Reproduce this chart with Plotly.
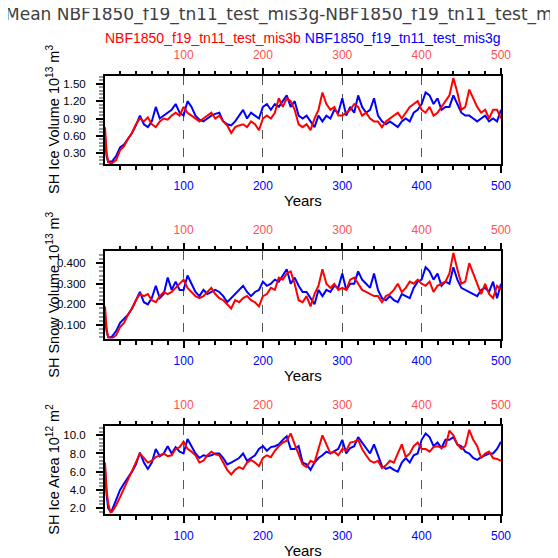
import plotly.graph_objects as go

years = [1, 3, 5, 8] + list(range(10, 505, 5))

ice_vol_mis3b = [0.75, 0.30, 0.15, 0.12, 0.13, 0.18, 0.35, 0.42, 0.55, 0.65,
                 0.80, 0.90, 0.85, 0.92, 0.80, 0.75, 0.85, 0.90, 0.88, 0.95,
                 1.00, 0.95, 1.10, 1.00, 0.95, 0.90, 0.85, 0.90, 0.95, 1.00,
                 0.90, 0.95, 0.85, 0.78, 0.65, 0.75, 0.78, 0.80, 0.75, 0.85,
                 0.80, 0.70, 0.90, 0.95, 0.90, 1.00, 1.25, 1.10, 1.25, 1.20,
                 1.05, 0.80, 0.75, 0.80, 0.70, 0.90, 1.05, 1.35, 1.15, 1.05,
                 1.10, 0.95, 0.95, 1.00, 1.05, 1.15, 1.10, 0.95, 1.00, 0.90,
                 0.85, 0.85, 0.75, 0.85, 0.90, 0.95, 1.00, 0.90, 1.00, 1.10,
                 1.15, 1.20, 1.05, 1.00, 1.10, 0.95, 1.00, 1.10, 1.20, 1.30,
                 1.60, 1.35, 1.05, 1.10, 1.40, 1.25, 1.10, 1.00, 1.05, 0.90,
                 1.05, 1.05, 0.90]
ice_vol_mis3g = [0.60, 0.25, 0.15, 0.15, 0.16, 0.25, 0.40, 0.45, 0.55, 0.65,
                 0.78, 0.95, 0.80, 0.75, 0.85, 1.10, 0.90, 0.95, 1.00, 1.05,
                 1.15, 1.00, 0.95, 1.20, 1.10, 0.95, 0.88, 0.85, 0.90, 0.95,
                 0.98, 1.00, 0.85, 0.80, 0.78, 0.85, 0.95, 1.05, 0.90, 1.00,
                 0.95, 0.90, 1.10, 1.15, 1.05, 1.15, 1.10, 1.20, 1.30, 1.10,
                 1.20, 0.95, 0.90, 0.95, 0.85, 0.75, 0.95, 0.85, 0.95, 0.90,
                 1.05, 1.00, 1.25, 0.95, 1.10, 1.00, 1.30, 1.10, 1.00, 1.05,
                 1.25, 0.95, 0.85, 0.80, 0.85, 0.80, 0.75, 0.85, 0.90, 0.85,
                 1.00, 1.05, 1.15, 1.35, 1.30, 1.15, 1.25, 1.05, 1.10, 1.10,
                 1.30, 1.15, 1.00, 0.95, 0.95, 0.90, 0.85, 0.90, 0.95, 0.85,
                 0.90, 0.85, 1.05]

snow_vol_mis3b = [0.19, 0.08, 0.04, 0.032, 0.035, 0.05, 0.09, 0.11, 0.15, 0.18,
                  0.22, 0.25, 0.24, 0.25, 0.22, 0.21, 0.24, 0.26, 0.25, 0.26,
                  0.28, 0.30, 0.32, 0.28, 0.26, 0.24, 0.23, 0.24, 0.26, 0.28,
                  0.25, 0.23, 0.22, 0.20, 0.18, 0.22, 0.21, 0.23, 0.24, 0.22,
                  0.21, 0.19, 0.24, 0.25, 0.28, 0.27, 0.33, 0.32, 0.35, 0.36,
                  0.30, 0.22, 0.21, 0.24, 0.19, 0.25, 0.29, 0.37, 0.30, 0.28,
                  0.30, 0.27, 0.28, 0.27, 0.32, 0.33, 0.30, 0.27, 0.26, 0.25,
                  0.24, 0.24, 0.21, 0.24, 0.25, 0.27, 0.30, 0.26, 0.28, 0.31,
                  0.30, 0.32, 0.30, 0.29, 0.31, 0.26, 0.29, 0.30, 0.31, 0.35,
                  0.45, 0.37, 0.30, 0.31, 0.40, 0.35, 0.30, 0.25, 0.30, 0.25,
                  0.23, 0.29, 0.27]
snow_vol_mis3g = [0.15, 0.07, 0.04, 0.04, 0.045, 0.07, 0.11, 0.13, 0.15, 0.18,
                  0.22, 0.26, 0.21, 0.20, 0.23, 0.29, 0.23, 0.25, 0.33, 0.27,
                  0.31, 0.27, 0.27, 0.34, 0.30, 0.26, 0.24, 0.27, 0.25, 0.26,
                  0.27, 0.26, 0.24, 0.21, 0.23, 0.25, 0.27, 0.29, 0.26, 0.24,
                  0.26, 0.27, 0.31, 0.29, 0.30, 0.32, 0.31, 0.34, 0.37, 0.30,
                  0.33, 0.29, 0.26, 0.26, 0.23, 0.20, 0.27, 0.24, 0.27, 0.26,
                  0.29, 0.28, 0.35, 0.27, 0.30, 0.30, 0.36, 0.32, 0.30, 0.28,
                  0.35, 0.27, 0.23, 0.22, 0.24, 0.22, 0.21, 0.25, 0.24, 0.23,
                  0.28, 0.31, 0.32, 0.38, 0.36, 0.32, 0.35, 0.29, 0.31, 0.30,
                  0.38, 0.32, 0.28, 0.27, 0.26, 0.25, 0.24, 0.27, 0.28, 0.26,
                  0.31, 0.23, 0.30]

ice_area_mis3b = [7.0, 4.0, 2.5, 1.5, 1.6, 2.3, 3.2, 4.2, 5.2, 6.2,
                  7.0, 8.0, 7.5, 7.0, 7.2, 7.6, 7.8, 8.0, 7.7, 7.8,
                  8.5, 8.7, 9.3, 8.5, 8.2, 7.8, 7.0, 7.2, 7.8, 8.2,
                  7.9, 7.8, 7.0, 6.2, 5.7, 6.2, 6.5, 6.3, 7.0, 7.3,
                  7.0, 6.6, 7.5, 7.8, 7.6, 8.3, 8.8, 9.2, 9.4, 10.2,
                  9.0, 8.0, 6.8, 6.5, 7.2, 7.0, 8.5, 10.0, 9.0, 8.0,
                  8.2, 7.8, 8.5, 8.3, 9.2, 9.3, 9.5, 8.5, 7.8, 7.2,
                  7.0, 7.2, 6.4, 6.7, 7.2, 7.0, 8.0, 9.0, 7.6, 8.0,
                  8.8, 9.2, 8.5, 8.5, 8.2, 8.7, 8.8, 8.6, 8.8, 10.5,
                  10.0, 9.0, 8.5, 8.8, 10.6, 9.5, 8.8, 7.5, 8.0, 8.2,
                  7.5, 7.4, 7.2]
ice_area_mis3g = [6.5, 3.5, 2.0, 1.6, 1.8, 2.8, 4.0, 4.7, 5.3, 6.0,
                  6.8, 8.1, 7.0, 6.3, 7.0, 8.5, 7.7, 8.0, 8.8, 8.0,
                  8.7, 8.2, 8.0, 9.6, 8.8, 8.0, 7.5, 7.8, 7.7, 7.8,
                  8.0, 8.0, 7.5, 6.8, 7.0, 7.3, 7.5, 8.0, 7.2, 7.5,
                  7.8, 8.5, 8.8, 8.3, 8.7, 8.8, 9.0, 9.5, 9.9, 8.5,
                  8.5, 8.8, 7.0, 6.8, 6.2, 7.0, 7.5, 7.8, 8.2, 8.0,
                  8.3, 8.5, 9.5, 8.0, 8.6, 8.8, 9.8, 9.2, 8.7, 8.0,
                  9.0, 7.8, 6.6, 6.3, 6.5, 6.2, 6.0, 7.0, 7.5, 7.0,
                  7.8, 8.0, 9.5, 10.2, 9.8, 8.8, 9.2, 8.6, 9.5, 9.5,
                  9.8, 9.0, 8.8, 8.2, 8.0, 7.5, 7.3, 7.6, 7.8, 8.0,
                  8.0, 8.5, 9.3]

x_tick_vals = [100, 200, 300, 400, 500]
title_text = "Mean NBF1850_f19_tn11_test_mis3g-NBF1850_f19_tn11_test_mis3b"
name_b = "NBF1850_f19_tn11_test_mis3b"
name_g = "NBF1850_f19_tn11_test_mis3g"
x_title = "Years"

panels = [
    dict(red=ice_vol_mis3b, blue=ice_vol_mis3g,
         ytitle="SH Ice Volume 10<sup>13</sup> m<sup>3</sup>",
         yrange=[0.113, 1.635], dtick=0.3, minor=0.06, fmt=".2f",
         top=76, bot=164),
    dict(red=snow_vol_mis3b, blue=snow_vol_mis3g,
         ytitle="SH Snow Volume 10<sup>13</sup> m<sup>3</sup>",
         yrange=[0.034, 0.459], dtick=0.1, minor=0.02, fmt=".3f",
         top=251, bot=338.5),
    dict(red=ice_area_mis3b, blue=ice_area_mis3g,
         ytitle="SH Ice Area 10<sup>12</sup> m<sup>2</sup>",
         yrange=[1.40, 11.02], dtick=2.0, minor=0.4, fmt=".1f",
         top=426, bot=513.5),
]

# page has an 8px body margin; figure is 550x550 placed at (8, 8)
OFF = 8.0
FW = 550.0


def fx(px):
    return (px - OFF) / FW


def fy(py):
    return 1 - (py - OFF) / FW


PL, PR = 105, 501
xdom = [fx(PL), fx(PR)]
FONT = "Liberation Sans, Arial, sans-serif"

fig = go.Figure()
layout = dict(
    width=int(FW), height=int(FW),
    margin=dict(l=0, r=0, t=0, b=0, pad=0),
    paper_bgcolor="white", plot_bgcolor="white",
    showlegend=False,
    font=dict(family=FONT, size=12, color="black"),
)
annotations = []

for i, p in enumerate(panels):
    xb = 2 * i + 1
    xt = 2 * i + 2
    yi = i + 1
    xb_name = "x" if xb == 1 else f"x{xb}"
    xt_name = f"x{xt}"
    y_name = "y" if yi == 1 else f"y{yi}"
    ydom = [fy(p["bot"]), fy(p["top"])]

    fig.add_trace(go.Scatter(x=years, y=p["blue"], mode="lines",
                             line=dict(color="#0000ff", width=2),
                             xaxis=xb_name, yaxis=y_name, name=name_g))
    fig.add_trace(go.Scatter(x=years, y=p["red"], mode="lines",
                             line=dict(color="#ff0000", width=2),
                             xaxis=xt_name, yaxis=y_name, name=name_b))

    layout[f"xaxis{'' if xb == 1 else xb}"] = dict(
        domain=xdom, anchor=y_name, range=[1, 500], automargin=False,
        tickvals=x_tick_vals, ticks="outside", ticklen=7, tickwidth=2,
        tickcolor="black", ticklabelstandoff=3,
        tickfont=dict(color="#0000ff", size=12, family=FONT),
        showline=True, linecolor="black", linewidth=2, mirror=True,
        showgrid=True, gridcolor="#555555", griddash="dash", gridwidth=1,
        zeroline=False,
        minor=dict(dtick=20, tick0=0, ticks="outside", ticklen=4,
                   tickcolor="black", tickwidth=1.5, showgrid=False),
    )
    layout[f"xaxis{xt}"] = dict(
        overlaying=xb_name, anchor=y_name, side="top", range=[1, 500],
        automargin=False,
        tickvals=x_tick_vals, ticks="outside", ticklen=7, tickwidth=2,
        tickcolor="black", ticklabelstandoff=4,
        tickfont=dict(color="#ff5050", size=12, family=FONT),
        showline=False, showgrid=False, zeroline=False,
        minor=dict(dtick=20, tick0=0, ticks="outside", ticklen=4,
                   tickcolor="black", tickwidth=1.5, showgrid=False),
    )
    layout[f"yaxis{'' if yi == 1 else yi}"] = dict(
        domain=ydom, anchor=xb_name, range=p["yrange"], automargin=False,
        dtick=p["dtick"], tick0=0, tickformat=p["fmt"],
        ticks="outside", ticklen=7, tickwidth=2, tickcolor="black",
        ticklabelstandoff=8,
        tickfont=dict(size=11.5, family=FONT),
        showline=True, linecolor="black", linewidth=2, mirror=True,
        showgrid=False, zeroline=False,
        minor=dict(dtick=p["minor"], tick0=0, ticks="outside", ticklen=4,
                   tickcolor="#999999", tickwidth=1.5, showgrid=False),
    )
    annotations.append(dict(
        text=p["ytitle"], x=fx(53), y=fy((p["top"] + p["bot"]) / 2),
        xref="paper", yref="paper", xanchor="center", yanchor="middle",
        textangle=-90, showarrow=False,
        font=dict(family=FONT, size=14.5, color="black")))
    annotations.append(dict(
        text=x_title, x=fx((PL + PR) / 2), y=fy(p["bot"] + 37),
        xref="paper", yref="paper", xanchor="center", yanchor="middle",
        showarrow=False, font=dict(family=FONT, size=15, color="black")))

annotations += [
    dict(text=title_text, x=fx(3), y=fy(15), xref="paper", yref="paper",
         xanchor="left", yanchor="middle", showarrow=False,
         font=dict(family="DejaVu Sans, sans-serif", size=17, color="#404040")),
    dict(text=(f"<span style='color:#ff0000'>{name_b}</span> "
               f"<span style='color:#0000ff'>{name_g}</span>"),
         x=fx((PL + PR) / 2), y=fy(38.5), xref="paper", yref="paper",
         xanchor="center", yanchor="middle", showarrow=False,
         font=dict(family=FONT, size=14)),
]
layout["annotations"] = annotations

fig.update_layout(**layout)
fig.write_html("out.html")
